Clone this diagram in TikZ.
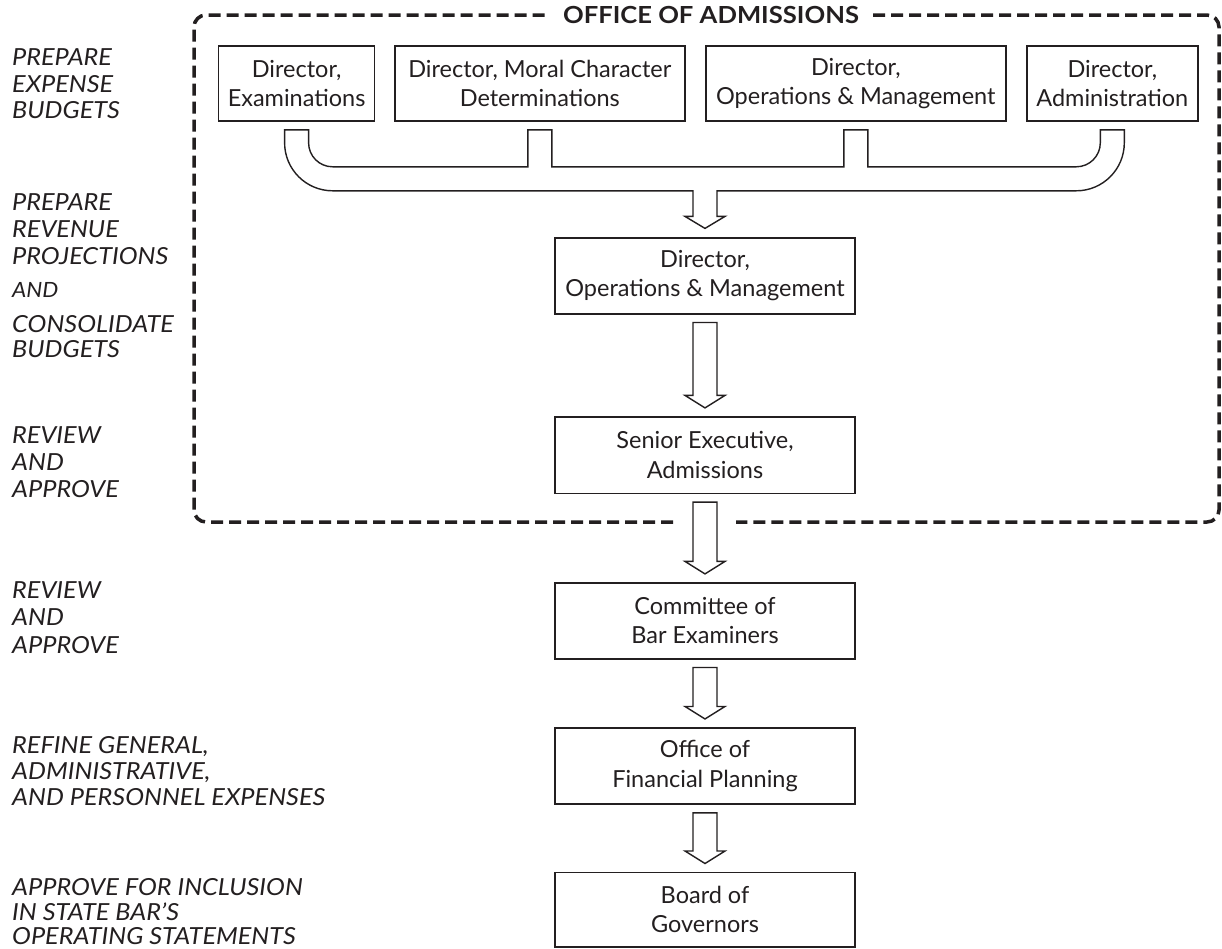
\documentclass[tikz,border=0pt]{standalone}
\usepackage{fontspec}
\setmainfont{Lato}
\newfontfamily\labfont[FakeStretch=1.075]{Lato}
\newfontfamily\ttlfont[FakeStretch=1.09]{Lato}
\usetikzlibrary{calc}
\definecolor{ink}{HTML}{231F20}
\tikzset{
  box/.style={draw=ink, line width=1.6pt, fill=white, align=center, inner sep=0pt,
    text=ink, font=\fontsize{23.5}{29.5}\selectfont},
  lab/.style={anchor=base west, inner sep=0pt, text=ink, font=\labfont\itshape\fontsize{23.5}{26}\selectfont},
  smalllab/.style={lab, font=\labfont\itshape\fontsize{21}{24}\selectfont},
  border/.style={draw=ink, line width=3.5pt, dash pattern=on 12pt off 6pt, rounded corners=12pt},
  arr/.style={draw=ink, line width=1.4pt, fill=white, line join=miter},
  titlestyle/.style={inner xsep=14pt, inner ysep=2pt, text=ink, font=\ttlfont\bfseries\fontsize{23.5}{26}\selectfont}
}
\newcommand\fatarr[2]{%
  \draw[arr] let \p1=(#1.south), \p2=(#2.north) in
    (\x1-12pt,\y1-8pt) -- (\x1+12pt,\y1-8pt) -- (\x1+12pt,\y2+20.5pt) -- (\x1+20pt,\y2+20.5pt)
    -- (\x1,\y2+8pt) -- (\x1-20pt,\y2+20.5pt) -- (\x1-12pt,\y2+20.5pt) -- cycle;}
\begin{document}
\begin{tikzpicture}[x=1pt,y=-1pt]
\useasboundingbox[fill=white] (0,0) rectangle (1222,948);

% title and dashed border
\node[titlestyle] (title) at (711,15) {OFFICE OF ADMISSIONS};
\coordinate (gapL) at (673,522);
\coordinate (gapR) at (736,522);
\draw[border] (title.east) -- (1219,15) -- (1219,522) -- (gapR);
\draw[border] (gapL) -- (194,522) -- (194,15) -- (title.west);

% top row
\node[box, minimum width=156pt, minimum height=75pt] (b1) at (296.6,83.5) {Director,\\Examinations};
\node[box, minimum width=290pt, minimum height=75pt] (b2) at (539.8,83.5) {Director, Moral Character\\Determinations};
\node[box, minimum width=300pt, minimum height=75pt] (b3) at (855.8,83.5) {Director,\\Operations \& Management};
\node[box, minimum width=171pt, minimum height=75pt] (b4) at (1112.3,83.5) {Director,\\Administration};

% column
\node[box, minimum width=300pt, minimum height=76pt] (m1) at (705,275.7) {Director,\\Operations \& Management};
\node[box, minimum width=300pt, minimum height=76.6pt] (m2) at (705,455) {Senior Executive,\\Admissions};
\node[box, minimum width=300pt, minimum height=76pt] (m3) at (705,620.7) {Committee of\\Bar Examiners};
\node[box, minimum width=300pt, minimum height=76.3pt] (m4) at (705,765.9) {Office of\\Financial Planning};
\node[box, minimum width=300pt, minimum height=74.4pt] (m5) at (705,909.5) {Board of\\Governors};

% merging bracket arrow
\draw[arr] let \p1=(b1.south), \p2=(b2.south), \p3=(b3.south), \p4=(b4.south), \p5=(m1.north) in
  (\x1-12pt,\y1-8pt) -- (\x1+12pt,\y1-8pt) -- (\x1+12pt,\y1-21pt)
  .. controls (\x1+12pt,\y1-34.25pt) and (\x1+22.75pt,\y1-45pt) .. (\x1+36pt,\y1-45pt)
  -- (\x2-12pt,\y1-45pt) -- (\x2-12pt,\y1-8pt) -- (\x2+12pt,\y1-8pt) -- (\x2+12pt,\y1-45pt)
  -- (\x3-12pt,\y1-45pt) -- (\x3-12pt,\y1-8pt) -- (\x3+12pt,\y1-8pt) -- (\x3+12pt,\y1-45pt)
  -- (\x4-36pt,\y1-45pt)
  .. controls (\x4-22.75pt,\y1-45pt) and (\x4-12pt,\y1-34.25pt) .. (\x4-12pt,\y1-21pt)
  -- (\x4-12pt,\y1-8pt) -- (\x4+12pt,\y1-8pt) -- (\x4+12pt,\y1-21pt)
  .. controls (\x4+12pt,\y1-47.5pt) and (\x4-9.5pt,\y1-69pt) .. (\x4-36pt,\y1-69pt)
  -- (\x5+12pt,\y1-69pt) -- (\x5+12pt,\y5+20.5pt) -- (\x5+20pt,\y5+20.5pt) -- (\x5,\y5+8.5pt)
  -- (\x5-20pt,\y5+20.5pt) -- (\x5-12pt,\y5+20.5pt) -- (\x5-12pt,\y1-69pt)
  -- (\x1+36pt,\y1-69pt)
  .. controls (\x1+9.5pt,\y1-69pt) and (\x1-12pt,\y1-47.5pt) .. (\x1-12pt,\y1-21pt) -- cycle;

% column arrows
\fatarr{m1}{m2}
\fatarr{m2}{m3}
\fatarr{m3}{m4}
\fatarr{m4}{m5}

% left labels
\node[lab] (l1a) at (12,65.5) {PREPARE};
\node[lab] (l1b) at (12,92) {EXPENSE};
\node[lab] (l1c) at (12,118) {BUDGETS};
\node[lab] (l2a) at (12,210) {PREPARE};
\node[lab] (l2b) at (12,237) {REVENUE};
\node[lab] (l2c) at (12,264) {PROJECTIONS};
\node[smalllab] (l2d) at (12,297) {AND};
\node[lab] (l2e) at (12,332) {CONSOLIDATE};
\node[lab] (l2f) at (12,357) {BUDGETS};
\node[lab] (l3a) at (12,443) {REVIEW};
\node[lab] (l3b) at (12,470) {AND};
\node[lab] (l3c) at (12,497) {APPROVE};
\node[lab] (l4a) at (12,598) {REVIEW};
\node[lab] (l4b) at (12,625) {AND};
\node[lab] (l4c) at (12,653) {APPROVE};
\node[lab] (l5a) at (12,753) {REFINE GENERAL,};
\node[lab] (l5b) at (12,779) {ADMINISTRATIVE,};
\node[lab] (l5c) at (12,805) {AND PERSONNEL EXPENSES};
\node[lab] (l6a) at (12,895) {APPROVE FOR INCLUSION};
\node[lab] (l6b) at (12,920) {IN STATE BAR’S};
\node[lab] (l6c) at (12,944) {OPERATING STATEMENTS};
\end{tikzpicture}
\end{document}
